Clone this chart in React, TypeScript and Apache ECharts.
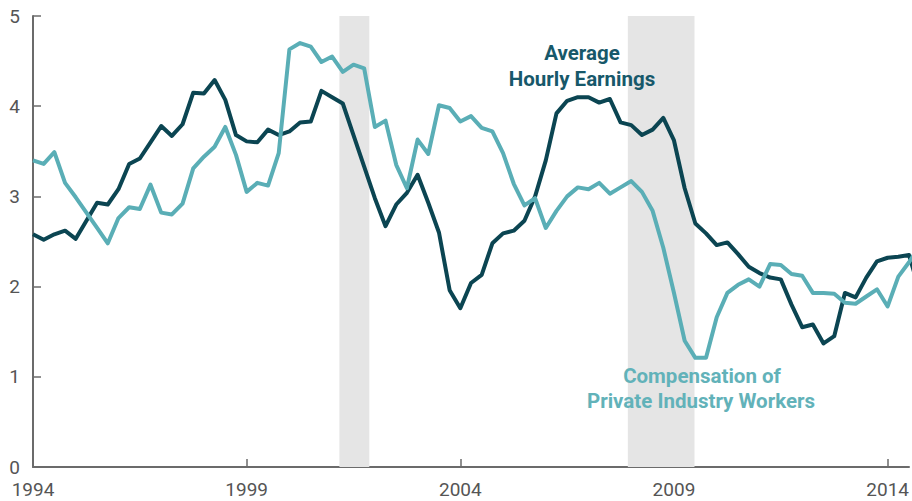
import React, { useEffect, useRef } from "react";
import * as echarts from "echarts";

// Quarterly series starting 1994 Q1 (percent change, year over year)
const startYear = 1994;

const averageHourlyEarnings = [
  2.58, 2.52, 2.58, 2.62, 2.53, 2.73, 2.93, 2.91, 3.08, 3.36,
  3.42, 3.60, 3.78, 3.67, 3.80, 4.15, 4.14, 4.29, 4.07, 3.68,
  3.61, 3.60, 3.74, 3.68, 3.72, 3.82, 3.83, 4.17, 4.10, 4.03,
  3.68, 3.33, 2.98, 2.67, 2.91, 3.04, 3.24, 2.93, 2.60, 1.96,
  1.76, 2.04, 2.13, 2.48, 2.59, 2.62, 2.73, 3.00, 3.40, 3.92,
  4.06, 4.10, 4.10, 4.04, 4.08, 3.82, 3.79, 3.68, 3.74, 3.87,
  3.62, 3.09, 2.70, 2.59, 2.46, 2.49, 2.36, 2.22, 2.15, 2.10,
  2.08, 1.80, 1.55, 1.58, 1.37, 1.45, 1.93, 1.88, 2.10, 2.28,
  2.32, 2.33, 2.35, 1.95,
];

const compensationPrivateIndustry = [
  3.40, 3.36, 3.49, 3.15, 2.99, 2.82, 2.65, 2.48, 2.76, 2.88,
  2.86, 3.13, 2.82, 2.80, 2.92, 3.31, 3.44, 3.55, 3.77, 3.46,
  3.05, 3.15, 3.12, 3.48, 4.63, 4.70, 4.66, 4.49, 4.55, 4.38,
  4.46, 4.42, 3.77, 3.84, 3.35, 3.09, 3.63, 3.47, 4.01, 3.98,
  3.83, 3.89, 3.76, 3.72, 3.48, 3.14, 2.90, 2.98, 2.65, 2.84,
  3.00, 3.10, 3.08, 3.15, 3.03, 3.10, 3.17, 3.05, 2.84, 2.43,
  1.93, 1.40, 1.21, 1.21, 1.66, 1.93, 2.02, 2.08, 2.00, 2.25,
  2.24, 2.14, 2.12, 1.93, 1.93, 1.92, 1.82, 1.81, 1.89, 1.97,
  1.78, 2.11, 2.27, 2.45,
];

const recessions = [
  [2001.17, 2001.87],
  [2007.92, 2009.48],
];

const xTickLabels = [1994, 1999, 2004, 2009, 2014];
const xMin = 1994;
const xMax = 2014.5;
const yMin = 0;
const yMax = 5;

const DARK = "#0b4552";
const LIGHT = "#5aaeb6";
const AXIS = "#6b6b6b";
const LABEL = "#555555";
const FONT = "Roboto, 'Liberation Sans', sans-serif";

export default function App() {
  const ref = useRef<HTMLDivElement>(null);

  useEffect(() => {
    document.body.style.margin = "0";
    const chart = echarts.init(ref.current as HTMLDivElement, null, { renderer: "svg" });
    const toPoints = (vals: number[]) => vals.map((v, i) => [startYear + i / 4, v]);

    const label = (text: string, x: number, y: number, fill: string) => ({
      type: "text",
      x,
      y,
      z: 100,
      zlevel: 0,
      style: { text, fill, font: `bold 20.5px ${FONT}`, align: "center", verticalAlign: "middle" },
    });

    chart.setOption({
      animation: false,
      grid: { left: 33, right: 0, top: 16, bottom: 34, containLabel: false },
      xAxis: {
        type: "value",
        min: xMin,
        max: xMax,
        interval: 5,
        axisLine: { show: true, lineStyle: { color: AXIS, width: 2 } },
        axisTick: {
          show: true,
          inside: true,
          length: 8,
          customValues: xTickLabels,
          lineStyle: { color: AXIS, width: 1.5 },
        },
        axisLabel: {
          customValues: xTickLabels,
          fontSize: 19,
          color: LABEL,
          margin: 13,
          fontFamily: FONT,
          formatter: (v: number) => String(v),
        },
        splitLine: { show: false },
      },
      yAxis: {
        type: "value",
        min: yMin,
        max: yMax,
        interval: 1,
        axisLine: { show: true, lineStyle: { color: AXIS, width: 2 } },
        axisTick: { show: true, inside: true, length: 8, lineStyle: { color: AXIS, width: 1.5 } },
        axisLabel: { fontSize: 19, color: LABEL, margin: 13, fontFamily: FONT },
        splitLine: { show: false },
      },
      series: [
        {
          type: "line",
          data: [],
          z: 1,
          silent: true,
          markArea: {
            silent: true,
            itemStyle: { color: "#e5e5e5" },
            data: recessions.map(([a, b]) => [{ xAxis: a }, { xAxis: b }]),
          },
        },
        {
          name: "Average Hourly Earnings",
          type: "line",
          data: toPoints(averageHourlyEarnings),
          showSymbol: false,
          clip: true,
          z: 3,
          lineStyle: { color: DARK, width: 4, join: "round" },
          itemStyle: { color: DARK },
        },
        {
          name: "Compensation of Private Industry Workers",
          type: "line",
          data: toPoints(compensationPrivateIndustry),
          showSymbol: false,
          clip: true,
          z: 4,
          lineStyle: { color: LIGHT, width: 4, join: "round" },
          itemStyle: { color: LIGHT },
        },
      ],
      graphic: {
        elements: [
          label("Average", 582, 52.5, "#17586a"),
          label("Hourly Earnings", 582, 78.5, "#17586a"),
          label("Compensation of", 702, 375.5, "#62b2b9"),
          label("Private Industry Workers", 701, 400.5, "#62b2b9"),
        ],
      },
    });

    return () => chart.dispose();
  }, []);

  return <div ref={ref} style={{ width: 912, height: 501 }} />;
}
